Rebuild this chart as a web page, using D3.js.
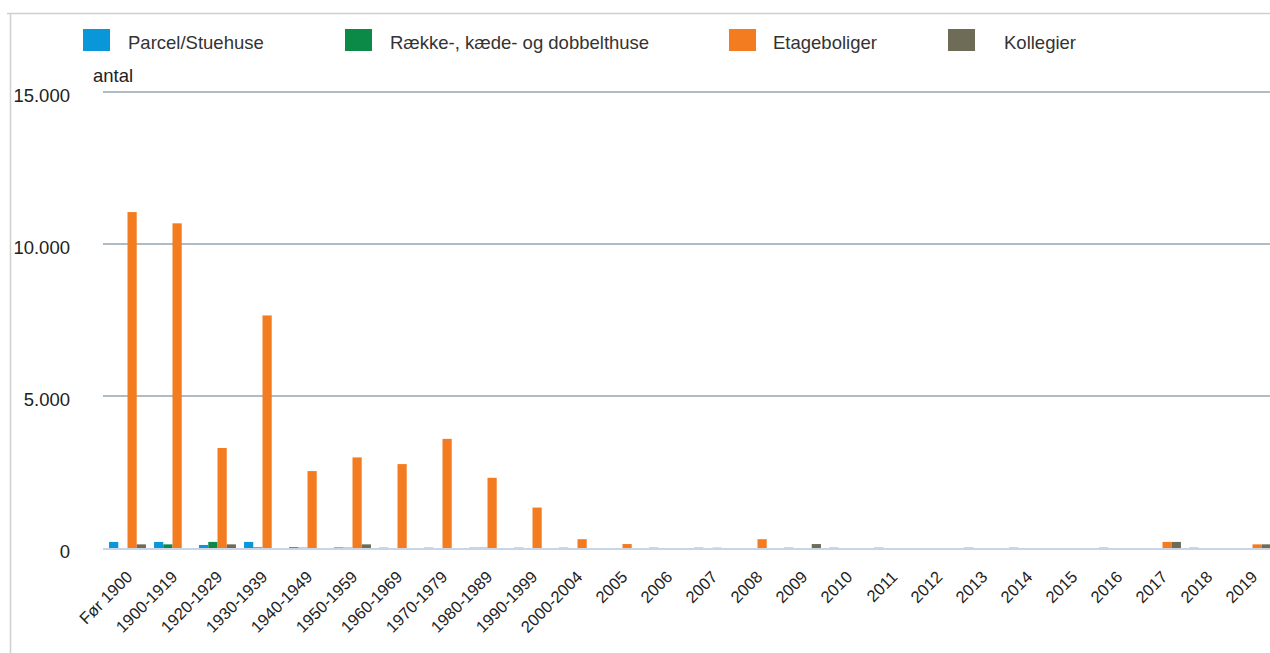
<!DOCTYPE html>
<html>
<head>
<meta charset="utf-8">
<script src="https://cdn.jsdelivr.net/npm/d3@7"></script>
<style>
  html, body { margin: 0; padding: 0; background: #fff; }
  svg { display: block; font-family: "Liberation Sans", Arial, sans-serif; }
</style>
</head>
<body>
<svg id="chart" width="1270" height="653"></svg>
<script>
const categories = ["Før 1900","1900-1919","1920-1929","1930-1939","1940-1949","1950-1959","1960-1969","1970-1979","1980-1989","1990-1999","2000-2004","2005","2006","2007","2008","2009","2010","2011","2012","2013","2014","2015","2016","2017","2018","2019"];
const seriesNames = ["Parcel/Stuehuse","Række-, kæde- og dobbelthuse","Etageboliger","Kollegier"];
const parcel   = [200,200,100,200,30,20,10,10,10,10,10,0,10,10,0,10,10,10,0,10,10,0,10,0,10,0];
const raekke   = [0,120,200,20,10,10,0,0,10,0,0,0,0,0,0,0,0,0,0,0,0,0,0,0,0,0];
const etage    = [11050,10680,3290,7650,2530,2980,2760,3590,2310,1330,290,130,0,10,290,0,0,0,0,0,0,0,0,200,0,120];
const kollegier= [120,0,120,0,0,120,0,0,0,0,0,0,0,0,0,130,0,0,0,0,0,0,0,200,0,120];
const yTicks = [0,5000,10000,15000];
const yTickLabels = ["0","5.000","10.000","15.000"];
const colors = ["#0a97d9","#0b8a47","#f47c20","#6e6b57"];

const series = [parcel, raekke, etage, kollegier];
const svg = d3.select("#chart");

// frame
svg.append("line").attr("x1",7).attr("x2",1270).attr("y1",13.5).attr("y2",13.5).attr("stroke","#cfcfcf").attr("stroke-width",1.5);
svg.append("line").attr("x1",10.5).attr("x2",10.5).attr("y1",13).attr("y2",653).attr("stroke","#cfcfcf").attr("stroke-width",1.5);

const x0 = d3.scaleBand().domain(categories).range([105,1275]).paddingInner(0.18).paddingOuter(0.09);
const x1 = d3.scaleBand().domain(d3.range(4)).range([0, x0.bandwidth()]);
const y = d3.scaleLinear().domain([0,15000]).range([548,92]);

// gridlines
svg.append("g").selectAll("line").data(yTicks.filter(d=>d>0)).join("line")
  .attr("x1",103).attr("x2",1270)
  .attr("y1",d=>y(d)).attr("y2",d=>y(d))
  .attr("stroke","#afbcc6").attr("stroke-width",2);

// y labels
svg.append("g").selectAll("text").data(yTicks).join("text")
  .attr("x",70).attr("y",d=>y(d)+5)
  .attr("text-anchor","end").attr("dominant-baseline","middle")
  .attr("font-size",18.5).attr("fill","#222")
  .text((d,i)=>yTickLabels[i]);

svg.append("text").attr("x",93).attr("y",82).attr("font-size",18.5).attr("fill","#222").text("antal");

// bars
const groups = svg.append("g").selectAll("g").data(categories).join("g")
  .attr("transform",d=>`translate(${x0(d)},0)`);
groups.selectAll("rect").data((d,i)=>series.map((s,k)=>({k, v:s[i]}))).join("rect")
  .attr("x",d=>x1(d.k)).attr("width",x1.bandwidth())
  .attr("y",d=>y(d.v)).attr("height",d=>y(0)-y(d.v))
  .attr("fill",d=>colors[d.k]);

// zero axis
svg.append("line").attr("x1",103).attr("x2",1270).attr("y1",y(0)+1).attr("y2",y(0)+1)
  .attr("stroke","#c9d5e6").attr("stroke-width",2);

// x labels
svg.append("g").selectAll("text").data(categories).join("text")
  .attr("transform",d=>`translate(${x0(d)+x0.bandwidth()/2+6},578) rotate(-45)`)
  .attr("text-anchor","end").attr("font-size",16.5).attr("fill","#222")
  .text(d=>d);

// legend
const legX = [83,345,729,948];
const legTX = [128,390,773,1004];
const leg = svg.append("g").selectAll("g").data(seriesNames).join("g");
leg.append("rect").attr("x",(d,i)=>legX[i]).attr("y",29).attr("width",27).attr("height",22).attr("fill",(d,i)=>colors[i]);
leg.append("text").attr("x",(d,i)=>legTX[i]).attr("y",44).attr("dominant-baseline","middle")
  .attr("font-size",18.5).attr("fill","#333").text(d=>d);
</script>
</body>
</html>
